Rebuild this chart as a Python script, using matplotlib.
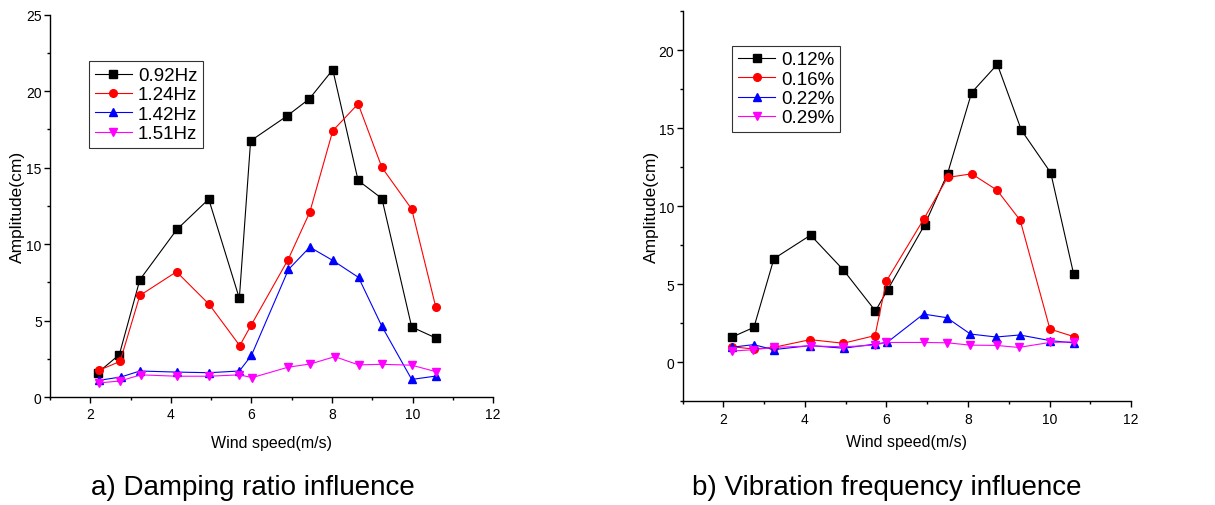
import matplotlib
matplotlib.use("Agg")
import matplotlib.pyplot as plt
from matplotlib.ticker import MultipleLocator

plt.rcParams['font.family'] = ['Liberation Sans', 'DejaVu Sans']

# --- panel a) : damping ratio influence (legend: frequency) ---
speed_a = {
    '0.92Hz': [2.19, 2.72, 3.23, 4.15, 4.94, 5.70, 5.98, 6.88, 7.44, 8.02, 8.65, 9.24, 9.98, 10.58],
    '1.24Hz': [2.21, 2.74, 3.23, 4.14, 4.95, 5.71, 6.00, 6.91, 7.45, 8.02, 8.65, 9.24, 9.98, 10.58],
    '1.42Hz': [2.21, 2.76, 3.23, 4.15, 4.95, 5.70, 6.00, 6.92, 7.45, 8.02, 8.66, 9.24, 9.98, 10.58],
    '1.51Hz': [2.21, 2.74, 3.25, 4.15, 4.95, 5.70, 6.02, 6.91, 7.46, 8.07, 8.66, 9.24, 9.98, 10.58],
}
amp_a = {
    '0.92Hz': [1.6, 2.77, 7.67, 10.96, 12.94, 6.45, 16.75, 18.37, 19.5, 21.4, 14.16, 12.98, 4.58, 3.86],
    '1.24Hz': [1.74, 2.33, 6.64, 8.19, 6.06, 3.36, 4.73, 8.98, 12.09, 17.41, 19.17, 15.01, 12.29, 5.86],
    '1.42Hz': [1.09, 1.31, 1.70, 1.63, 1.59, 1.70, 2.72, 8.34, 9.80, 8.93, 7.82, 4.62, 1.15, 1.37],
    '1.51Hz': [0.92, 1.05, 1.45, 1.36, 1.36, 1.45, 1.27, 1.95, 2.16, 2.64, 2.10, 2.14, 2.08, 1.66],
}

# --- panel b) : vibration frequency influence (legend: damping ratio) ---
speed_b = {
    '0.12%': [2.20, 2.75, 3.24, 4.14, 4.94, 5.73, 6.03, 6.94, 7.50, 8.09, 8.72, 9.31, 10.03, 10.59],
    '0.16%': [2.20, 2.74, 3.24, 4.13, 4.94, 5.72, 6.00, 6.92, 7.50, 8.09, 8.71, 9.28, 10.01, 10.60],
    '0.22%': [2.20, 2.74, 3.23, 4.13, 4.95, 5.73, 6.02, 6.91, 7.48, 8.06, 8.69, 9.27, 10.01, 10.60],
    '0.29%': [2.20, 2.72, 3.23, 4.14, 4.94, 5.71, 6.00, 6.91, 7.49, 8.05, 8.70, 9.24, 10.01, 10.60],
}
amp_b = {
    '0.12%': [1.60, 2.24, 6.64, 8.15, 5.93, 3.29, 4.65, 8.82, 12.10, 17.29, 19.10, 14.88, 12.15, 5.68],
    '0.16%': [1.00, 0.85, 0.96, 1.45, 1.22, 1.71, 5.21, 9.20, 11.85, 12.08, 11.04, 9.11, 2.13, 1.64],
    '0.22%': [0.96, 1.13, 0.81, 1.07, 0.90, 1.17, 1.28, 3.09, 2.86, 1.81, 1.62, 1.75, 1.39, 1.24],
    '0.29%': [0.72, 0.80, 0.95, 1.05, 0.99, 1.10, 1.27, 1.27, 1.25, 1.10, 1.08, 0.95, 1.27, 1.31],
}

colors = ['black', 'red', 'blue', 'magenta']
markers = ['s', 'o', '^', 'v']


def style_axes(ax, ylim, ymajor):
    ax.set_xlim(1, 12)
    ax.set_ylim(*ylim)
    ax.xaxis.set_major_locator(MultipleLocator(2))
    ax.xaxis.set_minor_locator(MultipleLocator(1))
    ax.yaxis.set_major_locator(MultipleLocator(ymajor))
    ax.yaxis.set_minor_locator(MultipleLocator(ymajor / 2))
    for s in ['top', 'right']:
        ax.spines[s].set_visible(False)
    for s in ['left', 'bottom']:
        ax.spines[s].set_linewidth(1.0)
    ax.tick_params(which='major', direction='out', length=4, width=1, labelsize=10)
    ax.tick_params(axis='y', which='major', pad=2)
    ax.tick_params(which='minor', direction='out', length=2.5, width=1)
    ax.set_xlabel('Wind speed(m/s)', fontsize=11.5)
    ax.set_ylabel('Amplitude(cm)', fontsize=12.5)


def draw(ax, xs, ys):
    for (name, c, m) in zip(xs.keys(), colors, markers):
        ax.plot(xs[name], ys[name], color=c, marker=m, markersize=5.5,
                linewidth=0.8, label=name)


def add_legend(ax, anchor):
    leg = ax.legend(loc='upper left', bbox_to_anchor=anchor, fontsize=13.5,
                    frameon=True, fancybox=False, edgecolor='black',
                    handlelength=2.0, handletextpad=0.3, labelspacing=0.12,
                    borderpad=0.3, borderaxespad=0)
    leg.get_frame().set_linewidth(0.8)
    return leg


fig = plt.figure(figsize=(12.15, 5.06), dpi=100)

ax1 = fig.add_axes([0.0412, 0.2134, 0.3646, 0.7556])
draw(ax1, speed_a, amp_a)
style_axes(ax1, (0, 25), 5)
ax1.yaxis.set_label_coords(-0.056, 0.5)
ax1.xaxis.set_label_coords(0.5, -0.1)
add_legend(ax1, (0.088, 0.878))

ax2 = fig.add_axes([0.5618, 0.205, 0.3691, 0.7707])
draw(ax2, speed_b, amp_b)
style_axes(ax2, (-2.5, 22.5), 5)
ax2.yaxis.set_label_coords(-0.052, 0.5)
ax2.xaxis.set_label_coords(0.5, -0.085)
add_legend(ax2, (0.111, 0.912))

fig.text(253 / 1215, 1 - 488 / 506, 'a) Damping ratio influence',
         ha='center', va='center', fontsize=20)
fig.text(887 / 1215, 1 - 488 / 506, 'b) Vibration frequency influence',
         ha='center', va='center', fontsize=20)

fig.savefig('out.png', dpi=100)
